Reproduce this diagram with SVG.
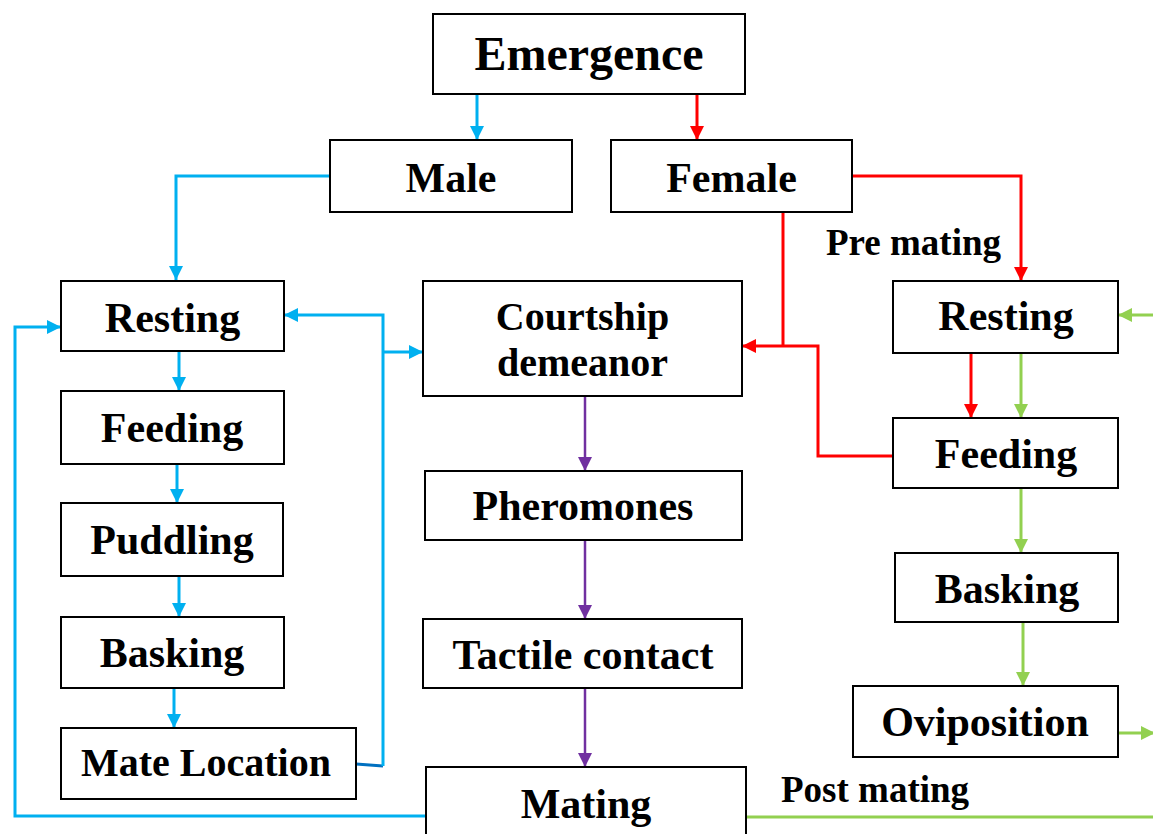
<svg xmlns="http://www.w3.org/2000/svg" width="1153" height="834" viewBox="0 0 1153 834">
  <defs>
    <style>
      .box { fill: #ffffff; stroke: #000000; stroke-width: 2; }
      .lbl { font-family: "Liberation Serif", "Times New Roman", serif; font-weight: bold; fill: #000000; text-anchor: middle; font-size: 42px; }
      .note { font-family: "Liberation Serif", "Times New Roman", serif; font-weight: bold; fill: #000000; font-size: 37px; }
      .c { fill: none; stroke-width: 3; stroke-linejoin: miter; }
      .blue { stroke: #00B0F0; }
      .dblue { stroke: #0070C0; }
      .red { stroke: #FF0000; }
      .green { stroke: #92D050; }
      .purple { stroke: #7030A0; stroke-width: 2.5; }
    </style>
    <marker id="ah-blue" viewBox="0 0 14 14" refX="14" refY="7" markerWidth="14" markerHeight="14" markerUnits="userSpaceOnUse" orient="auto">
      <path d="M0,0 L14,7 L0,14 z" fill="#00B0F0"/>
    </marker>
    <marker id="ah-red" viewBox="0 0 14 14" refX="14" refY="7" markerWidth="14" markerHeight="14" markerUnits="userSpaceOnUse" orient="auto">
      <path d="M0,0 L14,7 L0,14 z" fill="#FF0000"/>
    </marker>
    <marker id="ah-green" viewBox="0 0 14 14" refX="14" refY="7" markerWidth="14" markerHeight="14" markerUnits="userSpaceOnUse" orient="auto">
      <path d="M0,0 L14,7 L0,14 z" fill="#92D050"/>
    </marker>
    <marker id="ah-purple" viewBox="0 0 14 14" refX="14" refY="7" markerWidth="14" markerHeight="14" markerUnits="userSpaceOnUse" orient="auto">
      <path d="M0,0 L14,7 L0,14 z" fill="#7030A0"/>
    </marker>
  </defs>

  <rect width="1153" height="834" fill="#ffffff"/>

  <!-- connectors -->
  <g id="connectors">
    <!-- male branch (blue) -->
    <path class="c blue" d="M477,94 V140" marker-end="url(#ah-blue)"/>
    <path class="c blue" d="M330,176 H176 V280" marker-end="url(#ah-blue)"/>
    <path class="c blue" d="M179,351 V391" marker-end="url(#ah-blue)"/>
    <path class="c blue" d="M177,464 V503" marker-end="url(#ah-blue)"/>
    <path class="c blue" d="M179,576 V617" marker-end="url(#ah-blue)"/>
    <path class="c blue" d="M174,688 V728" marker-end="url(#ah-blue)"/>
    <path class="c dblue" d="M356,764 L383,766"/>
    <path class="c blue" d="M383,766 V315 H284" marker-end="url(#ah-blue)"/>
    <path class="c blue" d="M383,352 H423" marker-end="url(#ah-blue)"/>
    <path class="c blue" d="M426,816 H15 V327 H61" marker-end="url(#ah-blue)"/>

    <!-- female branch (red) -->
    <path class="c red" d="M697,94 V140" marker-end="url(#ah-red)"/>
    <path class="c red" d="M852,176 H1021 V281" marker-end="url(#ah-red)"/>
    <path class="c red" d="M783,212 V346"/>
    <path class="c red" d="M893,456 H818 V346 H742" marker-end="url(#ah-red)"/>
    <path class="c red" d="M971,353 V418" marker-end="url(#ah-red)"/>

    <!-- post mating (green) -->
    <path class="c green" d="M1021,353 V418" marker-end="url(#ah-green)"/>
    <path class="c green" d="M1021,488 V553" marker-end="url(#ah-green)"/>
    <path class="c green" d="M1023,622 V686" marker-end="url(#ah-green)"/>
    <path class="c green" d="M1118,733 H1155" marker-end="url(#ah-green)"/>
    <path class="c green" d="M1153,315 H1118" marker-end="url(#ah-green)"/>
    <path class="c green" d="M746,817 H1153"/>

    <!-- courtship sequence (purple) -->
    <path class="c purple" d="M585,396 V471" marker-end="url(#ah-purple)"/>
    <path class="c purple" d="M585,540 V619" marker-end="url(#ah-purple)"/>
    <path class="c purple" d="M585,688 V767" marker-end="url(#ah-purple)"/>
  </g>

  <!-- nodes -->
  <g id="emergence">
    <rect class="box" x="433" y="14" width="312" height="80"/>
    <text class="lbl" x="589" y="70" style="font-size:48px">Emergence</text>
  </g>
  <g id="male">
    <rect class="box" x="330" y="140" width="242" height="72"/>
    <text class="lbl" x="451" y="192">Male</text>
  </g>
  <g id="female">
    <rect class="box" x="611" y="140" width="241" height="72"/>
    <text class="lbl" x="731.5" y="192">Female</text>
  </g>

  <g id="male-resting">
    <rect class="box" x="61" y="281" width="223" height="70"/>
    <text class="lbl" x="172.5" y="332">Resting</text>
  </g>
  <g id="male-feeding">
    <rect class="box" x="61" y="391" width="223" height="73"/>
    <text class="lbl" x="172" y="442">Feeding</text>
  </g>
  <g id="male-puddling">
    <rect class="box" x="61" y="503" width="222" height="73"/>
    <text class="lbl" x="172" y="554">Puddling</text>
  </g>
  <g id="male-basking">
    <rect class="box" x="61" y="617" width="223" height="71"/>
    <text class="lbl" x="172" y="667">Basking</text>
  </g>
  <g id="mate-location">
    <rect class="box" x="61" y="728" width="295" height="71"/>
    <text class="lbl" x="206" y="776" style="font-size:40px">Mate Location</text>
  </g>

  <g id="courtship">
    <rect class="box" x="423" y="281" width="319" height="115"/>
    <text class="lbl" x="582.5" y="330" style="font-size:40px">Courtship</text>
    <text class="lbl" x="582.5" y="376" style="font-size:40px">demeanor</text>
  </g>
  <g id="pheromones">
    <rect class="box" x="425" y="471" width="317" height="69"/>
    <text class="lbl" x="583" y="520">Pheromones</text>
  </g>
  <g id="tactile">
    <rect class="box" x="423" y="619" width="319" height="69"/>
    <text class="lbl" x="583" y="669">Tactile contact</text>
  </g>
  <g id="mating">
    <rect class="box" x="426" y="767" width="320" height="80"/>
    <text class="lbl" x="586" y="818">Mating</text>
  </g>

  <g id="female-resting">
    <rect class="box" x="893" y="281" width="225" height="72"/>
    <text class="lbl" x="1006" y="330">Resting</text>
  </g>
  <g id="female-feeding">
    <rect class="box" x="893" y="418" width="225" height="70"/>
    <text class="lbl" x="1006" y="468">Feeding</text>
  </g>
  <g id="female-basking">
    <rect class="box" x="895" y="553" width="223" height="69"/>
    <text class="lbl" x="1007" y="603">Basking</text>
  </g>
  <g id="oviposition">
    <rect class="box" x="853" y="686" width="265" height="71"/>
    <text class="lbl" x="985" y="736">Oviposition</text>
  </g>

  <g id="phase-labels">
    <text class="note" x="826" y="255">Pre mating</text>
    <text class="note" x="781" y="802">Post mating</text>
  </g>
</svg>
